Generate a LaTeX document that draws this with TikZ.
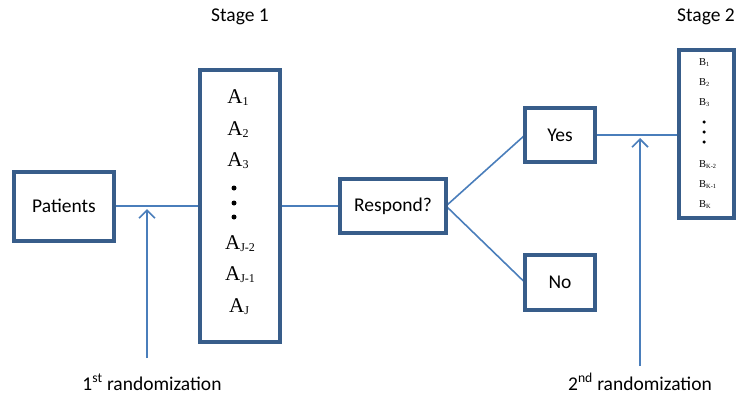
\documentclass[tikz,border=0pt]{standalone}
\usepackage{fontspec}
\setmainfont{Carlito}
\newfontfamily\timesfont{Liberation Serif}
\usetikzlibrary{arrows.meta}

\definecolor{boxblue}{HTML}{385D8A}
\definecolor{lineblue}{HTML}{4A7EBB}

% treatment labels: letter with a lowered small index
\newcommand\Aitem[1]{{\timesfont\fontsize{21}{21}\selectfont A\raisebox{-2.8pt}{\fontsize{12}{12}\selectfont #1}}}
\newcommand\Bitem[1]{{\timesfont\fontsize{10.5}{10.5}\selectfont B\raisebox{-1.5pt}{\fontsize{6.3}{6.3}\selectfont #1}}}

\tikzset{
  stagebox/.style={draw=boxblue, line width=4pt, fill=white, rectangle,
    inner sep=0pt, outer sep=0pt, font=\fontsize{19.5}{19.5}\selectfont},
  link/.style={draw=lineblue, line width=1.6pt},
  randarrow/.style={draw=lineblue, line width=1.6pt,
    -{Straight Barb[length=8pt,width=16pt,line width=1.6pt]}},
  plain/.style={inner sep=0pt, font=\fontsize{19.5}{19.5}\selectfont},
  dot/.style={circle, fill=black, inner sep=0pt, minimum size=5pt},
}

\begin{document}
\begin{tikzpicture}[x=1pt, y=-1pt]
  \useasboundingbox (0,0) rectangle (738,396);

  % boxes
  \node[stagebox, minimum width=100pt, minimum height=69pt] (pat) at (64,206) {Patients};
  \node[stagebox, minimum width=80pt, minimum height=272pt] (abox) at (240,206) {};
  \node[stagebox, minimum width=106pt, minimum height=54pt] (resp) at (393,206) {Respond?};
  \node[stagebox, minimum width=70pt, minimum height=54pt] (yes) at (560,135) {Yes};
  \node[stagebox, minimum width=70pt, minimum height=55pt] (no) at (560,282.5) {No};
  \node[stagebox, minimum width=55pt, minimum height=168pt] (bbox) at (706.5,134) {};

  % stage 1 treatments
  \node[inner sep=0pt, anchor=base] (a1) at (238,103) {\Aitem{1}};
  \node[inner sep=0pt, anchor=base] (a2) at (238,135) {\Aitem{2}};
  \node[inner sep=0pt, anchor=base] (a3) at (238,166) {\Aitem{3}};
  \node[dot] (ad1) at (234,188) {};
  \node[dot] (ad2) at (234,203) {};
  \node[dot] (ad3) at (234,217) {};
  \node[inner sep=0pt, anchor=base] (aj2) at (240,249) {\Aitem{J-2}};
  \node[inner sep=0pt, anchor=base] (aj1) at (240,280) {\Aitem{J-1}};
  \node[inner sep=0pt, anchor=base] (aj) at (239,312) {\Aitem{J}};

  % stage 2 treatments
  \node[inner sep=0pt, anchor=base west] (b1) at (699,65) {\Bitem{1}};
  \node[inner sep=0pt, anchor=base west] (b2) at (699,85) {\Bitem{2}};
  \node[inner sep=0pt, anchor=base west] (b3) at (699,105) {\Bitem{3}};
  \node[dot, minimum size=3.5pt] (bd1) at (704,122) {};
  \node[dot, minimum size=3.5pt] (bd2) at (704,132) {};
  \node[dot, minimum size=3.5pt] (bd3) at (704,142) {};
  \node[inner sep=0pt, anchor=base west] (bk2) at (699,167) {\Bitem{K-2}};
  \node[inner sep=0pt, anchor=base west] (bk1) at (699,187) {\Bitem{K-1}};
  \node[inner sep=0pt, anchor=base west] (bk) at (699,207) {\Bitem{K}};

  % headings and randomization labels
  \node[plain] (s1) at (240,17) {Stage 1};
  \node[plain] (s2) at (706,17) {Stage 2};
  \node[plain, anchor=base] (r1lbl) at (152,390) {1\textsuperscript{st} randomization};
  \node[plain, anchor=base] (r2lbl) at (640,390) {2\textsuperscript{nd} randomization};

  % flow connectors
  \draw[link] (pat.east) -- (pat.east -| abox.west);
  \draw[link] (abox.east |- resp.west) -- (resp.west);
  \draw[link] (resp.east) -- (yes.west);
  \draw[link] (resp.east) -- (no.west);
  \draw[link] (yes.east) -- (yes.east -| bbox.west);

  % randomization arrows
  \coordinate (r1bot) at (147,358);
  \coordinate (r1top) at (147,209);
  \coordinate (r2bot) at (640,366);
  \coordinate (r2top) at (640,138);
  \draw[randarrow] (r1bot) -- (r1top);
  \draw[randarrow] (r2bot) -- (r2top);

  % redraw box outlines over connector ends
  \foreach \b in {pat,abox,resp,yes,no,bbox}
    \draw[draw=boxblue, line width=4pt] (\b.south west) rectangle (\b.north east);
\end{tikzpicture}
\end{document}
